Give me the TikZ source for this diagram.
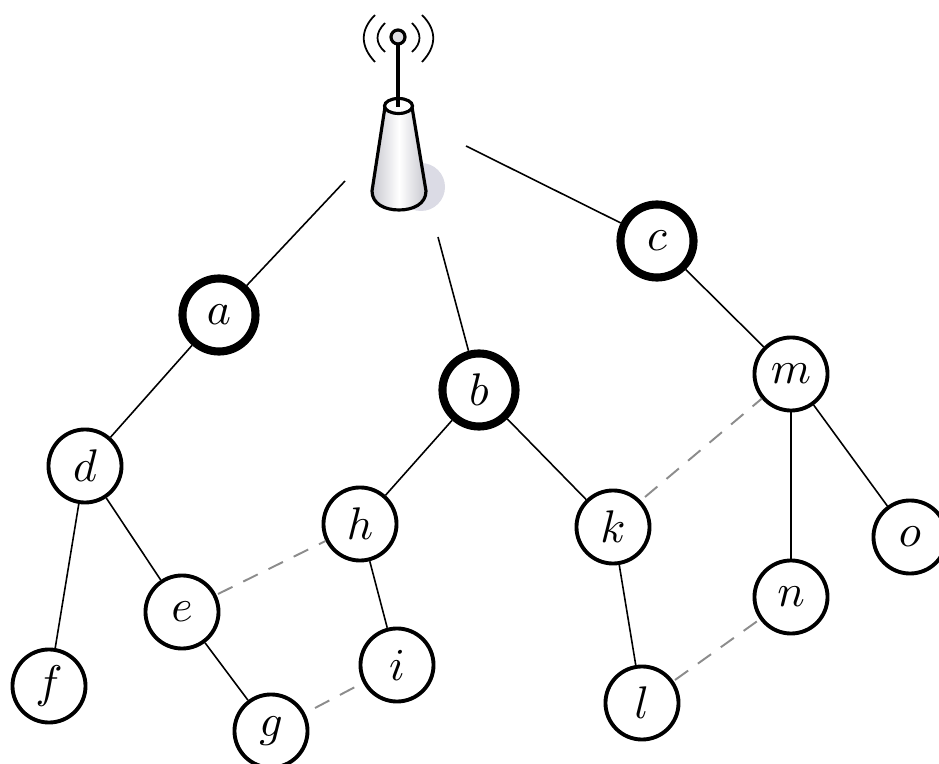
\documentclass[tikz,border=0pt]{standalone}
\usepackage{xcolor}
\usepackage{amsmath}
\usepackage{graphicx}
\usepackage{tikz}
\usetikzlibrary{calc}
\definecolor{linkgray}{rgb}{0.55, 0.55, 0.55}
\definecolor{shadowblue}{rgb}{0.86, 0.86, 0.90}
\definecolor{towergray}{rgb}{0.78, 0.78, 0.81}
\newcommand{\lbl}[1]{\scalebox{1.3}{$#1$}}
\tikzset{
	sensor/.style={circle, draw, line width=1.1pt, fill=white, minimum size=0.73cm, inner sep=0pt},
	head/.style={sensor, line width=2.3pt},
	link/.style={line width=0.45pt},
	sparelink/.style={line width=0.55pt, linkgray, dash pattern=on 4.6pt off 3.4pt}
}

\begin{document}
\begin{tikzpicture}[x=0.01cm, y=-0.01cm]
			\useasboundingbox (0,0) rectangle (939,764);
			%% router
			\fill [shadowblue] (421,187) circle (24);
			\shade [left color=towergray, right color=towergray, middle color=white] (385,107) -- (372,191) .. controls (372,204) and (385,210) .. (399,210) .. controls (413,210) and (426,204) .. (426,191) -- (412,107) -- cycle;
			\draw [line width=0.9pt] (385,107) -- (372,191) .. controls (372,204) and (385,210) .. (399,210) .. controls (413,210) and (426,204) .. (426,191) -- (412,107);
			\draw [line width=0.9pt, fill=white] (398.5,106) ellipse (14 and 7.5);
			\draw [line width=0.9pt] (398,107) -- (398,44);
			\node [circle, draw, line width=0.9pt, fill=towergray!60, minimum size=0.14cm, inner sep=0pt] (ball) at (398,37) {};
			\draw [line width=0.5pt] (385,23) .. controls (375,33) and (375,43) .. (385,52);
			\draw [line width=0.5pt] (375,15) .. controls (360,30) and (360,46) .. (375,62);
			\draw [line width=0.5pt] (412,23) .. controls (422,33) and (422,43) .. (412,52);
			\draw [line width=0.5pt] (422,15) .. controls (437,30) and (437,46) .. (422,62);
			\coordinate (toa) at (345,181);
			\coordinate (tob) at (438,237);
			\coordinate (toc) at (466,146);
			\coordinate (eh) at (218,594);
			\coordinate (gi) at (315,708);
			\coordinate (ln) at (675,680);
			\coordinate (km) at (645,497);
			%% sensors
			\node [head] (a) at (219,315) {\lbl{a}};
			\node [head] (b) at (479,390) {\lbl{b}};
			\node [head] (c) at (657,241) {\lbl{c}};
			\node [sensor] (m) at (791,374) {\lbl{m}};
			\node [sensor] (d) at (85,466) {\lbl{d}};
			\node [sensor] (h) at (360,524) {\lbl{h}};
			\node [sensor] (k) at (613,527) {\lbl{k}};
			\node [sensor] (o) at (910,537) {\lbl{o}};
			\node [sensor] (n) at (791,597) {\lbl{n}};
			\node [sensor] (e) at (182,612) {\lbl{e}};
			\node [sensor] (i) at (397,665) {\lbl{i}};
			\node [sensor] (f) at (49,686) {\lbl{f}};
			\node [sensor] (l) at (642,703) {\lbl{l}};
			\node [sensor] (g) at (271,731) {\lbl{g}};
			%% tree links
			\draw [link] (toa) -- (a);
			\draw [link] (tob) -- (b);
			\draw [link] (toc) -- (c);
			\draw [link] (a) -- (d);
			\draw [link] (d) -- (f);
			\draw [link] (d) -- (e);
			\draw [link] (e) -- (g);
			\draw [link] (b) -- (h);
			\draw [link] (b) -- (k);
			\draw [link] (h) -- (i);
			\draw [link] (k) -- (l);
			\draw [link] (c) -- (m);
			\draw [link, line width=0.6pt] (m) -- (n);
			\draw [link] (m) -- (o);
			%% spare links
			\draw [sparelink] (eh) -- (h);
			\draw [sparelink] (gi) -- (i);
			\draw [sparelink] (ln) -- (n);
			\draw [sparelink] (km) -- (m);
\end{tikzpicture}
\end{document}
